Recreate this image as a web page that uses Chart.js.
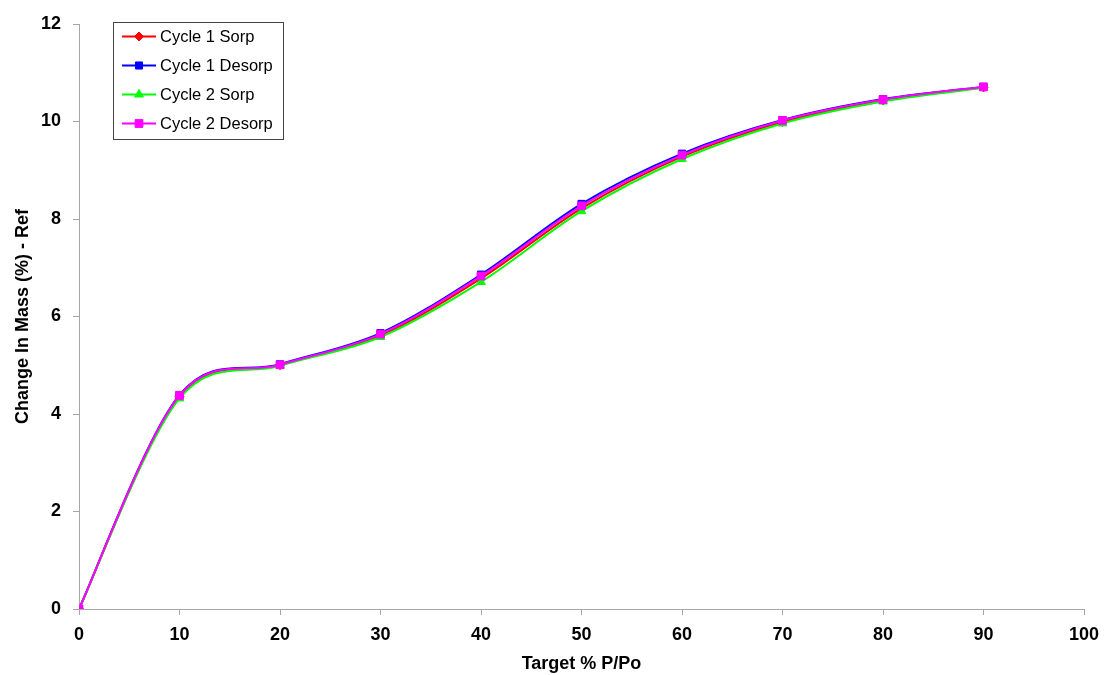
<!DOCTYPE html>
<html lang="en">
<head>
    <meta charset="UTF-8">
    <title>Change In Mass - Ref</title>
    <script src="https://cdn.jsdelivr.net/npm/chart.js"></script>
    <style>
        body { margin: 0; background: #fff; }
        #wrap { width: 1105px; height: 675px; }
    </style>
</head>
<body>
    <div id="wrap">
        <canvas id="massChart" width="1105" height="675"></canvas>
    </div>

    <script>
        // target % P/Po
        const targets = [0, 10, 20, 30, 40, 50, 60, 70, 80, 90];

        const cycle1Sorp   = [0, 4.36, 5.00, 5.61, 6.78, 8.22, 9.28, 9.99, 10.43, 10.70];
        const cycle1Desorp = [0, 4.39, 5.02, 5.66, 6.86, 8.31, 9.34, 10.03, 10.46, 10.71];
        const cycle2Sorp   = [0, 4.32, 4.99, 5.58, 6.71, 8.16, 9.23, 9.96, 10.41, 10.69];
        const cycle2Desorp = [0, 4.38, 5.01, 5.64, 6.83, 8.27, 9.31, 10.02, 10.45, 10.71];

        const seriesNames = ['Cycle 1 Sorp', 'Cycle 1 Desorp', 'Cycle 2 Sorp', 'Cycle 2 Desorp'];
        const yTicks = [0, 2, 4, 6, 8, 10, 12];

        const FONT = "'Liberation Sans', Arial, sans-serif";

        function pts(vals) {
            return vals.map((v, i) => ({ x: targets[i], y: v }));
        }

        function series(label, vals, color, style, radius, order) {
            return {
                label: label,
                data: pts(vals),
                borderColor: color,
                backgroundColor: color,
                borderWidth: 2,
                pointStyle: style,
                pointRadius: radius,
                pointBorderWidth: 1,
                pointBackgroundColor: color,
                pointBorderColor: color,
                tension: 0.4,
                order: order
            };
        }

        // excel style smoothing: control points at +-1/6 of the neighbour chord
        const excelSmooth = {
            id: 'excelSmooth',
            beforeDatasetsDraw(chart) {
                chart.getSortedVisibleDatasetMetas().forEach(meta => {
                    const line = meta.dataset;
                    if (line.updateControlPoints) line.updateControlPoints(chart.chartArea, 'x');
                    const p = meta.data;
                    const n = p.length;
                    for (let i = 0; i < n; i++) {
                        const prev = p[Math.max(i - 1, 0)];
                        const next = p[Math.min(i + 1, n - 1)];
                        const dx = (next.x - prev.x) / 6;
                        const dy = (next.y - prev.y) / 6;
                        p[i].cp1x = p[i].x - dx;
                        p[i].cp1y = p[i].y - dy;
                        p[i].cp2x = p[i].x + dx;
                        p[i].cp2y = p[i].y + dy;
                    }
                    line._pointsUpdated = true;
                    line._path = undefined;
                });
            }
        };

        // legend drawn inside the plot, like the excel one
        const boxLegend = {
            id: 'boxLegend',
            afterDraw(chart) {
                const ctx = chart.ctx;
                const x0 = 113, y0 = 22, w = 170, h = 117;
                ctx.save();
                ctx.fillStyle = '#fff';
                ctx.fillRect(x0, y0, w, h);
                ctx.strokeStyle = '#444';
                ctx.lineWidth = 1;
                ctx.strokeRect(x0 + 0.5, y0 + 0.5, w, h);
                ctx.font = '16.5px ' + FONT;
                ctx.textBaseline = 'middle';
                chart.data.datasets.forEach((ds, i) => {
                    const y = y0 + 14.5 + i * 29;
                    ctx.strokeStyle = ds.borderColor;
                    ctx.lineWidth = 2;
                    ctx.beginPath();
                    ctx.moveTo(122, y);
                    ctx.lineTo(156, y);
                    ctx.stroke();
                    ctx.fillStyle = ds.borderColor;
                    ctx.strokeStyle = ds.borderColor;
                    ctx.lineWidth = 1;
                    Chart.helpers.drawPoint(ctx, {
                        pointStyle: ds.pointStyle,
                        radius: ds.pointRadius,
                        borderWidth: 1
                    }, 139, y);
                    ctx.fillStyle = '#000';
                    ctx.fillText(ds.label, 160, y + 1);
                });
                ctx.restore();
            }
        };

        const ctx = document.getElementById('massChart').getContext('2d');
        new Chart(ctx, {
            type: 'line',
            data: {
                datasets: [
                    series(seriesNames[0], cycle1Sorp, '#ff0000', 'rectRot', 4.5, 4),
                    series(seriesNames[1], cycle1Desorp, '#0000ff', 'rect', 5, 3),
                    series(seriesNames[2], cycle2Sorp, '#00ff00', 'triangle', 5, 2),
                    series(seriesNames[3], cycle2Desorp, '#ff00ff', 'rect', 5.5, 1)
                ]
            },
            options: {
                responsive: false,
                animation: false,
                layout: {
                    padding: { top: 24, right: 21, left: 0, bottom: 0 }
                },
                plugins: {
                    legend: { display: false },
                    tooltip: { enabled: false }
                },
                scales: {
                    x: {
                        type: 'linear',
                        min: 0,
                        max: 100,
                        ticks: {
                            stepSize: 10,
                            color: '#000',
                            font: { family: FONT, size: 18, weight: 'bold' },
                            padding: 9
                        },
                        grid: { drawOnChartArea: false, drawTicks: true, tickLength: 6, color: '#a6a6a6' },
                        border: { display: true, color: '#a6a6a6', width: 1 },
                        title: {
                            display: true,
                            text: 'Target % P/Po',
                            color: '#000',
                            font: { family: FONT, size: 18, weight: 'bold' },
                            padding: { top: 0, bottom: 0 }
                        },
                        afterFit(scale) {
                            scale.height = 66;
                            scale.paddingLeft = 0;
                            scale.paddingRight = 0;
                        }
                    },
                    y: {
                        min: 0,
                        max: 12,
                        afterBuildTicks(scale) {
                            scale.ticks = yTicks.map(v => ({ value: v }));
                        },
                        ticks: {
                            color: '#000',
                            font: { family: FONT, size: 18, weight: 'bold' },
                            padding: 12
                        },
                        grid: { drawOnChartArea: false, drawTicks: true, tickLength: 6, color: '#a6a6a6' },
                        border: { display: true, color: '#a6a6a6', width: 1 },
                        title: {
                            display: true,
                            text: 'Change In Mass (%) - Ref',
                            color: '#000',
                            font: { family: FONT, size: 18, weight: 'bold' },
                            padding: { top: 12, bottom: 0 }
                        },
                        afterFit(scale) {
                            scale.width = 79;
                            scale.paddingTop = 0;
                            scale.paddingBottom = 0;
                        }
                    }
                }
            },
            plugins: [excelSmooth, boxLegend]
        });
    </script>
</body>
</html>
